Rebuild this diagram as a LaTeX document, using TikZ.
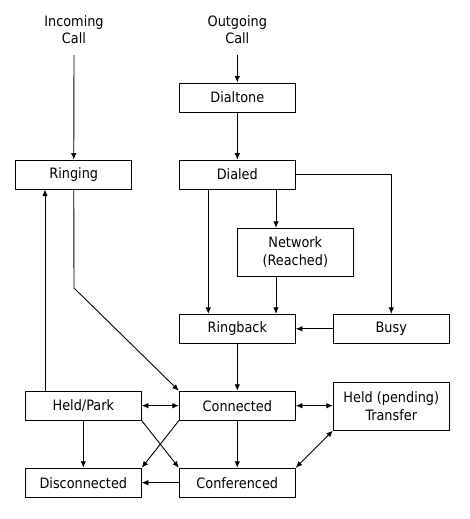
\documentclass[tikz,border=0pt]{standalone}
\usepackage{fontspec}
\setmainfont{DejaVu Sans Condensed}
\usetikzlibrary{arrows.meta}
\begin{document}
\begin{tikzpicture}[x=1pt,y=-1pt,
  box/.style={draw,line width=0.9pt,minimum width=116pt,minimum height=29pt,inner sep=0pt,align=center,font=\fontsize{14.3}{17.6}\selectfont},
  tallbox/.style={box,minimum height=48pt},
  lbl/.style={inner sep=0pt,minimum height=51pt,align=center,font=\fontsize{14.3}{17.6}\selectfont},
  arr/.style={line width=0.9pt,-{Latex[length=6.5pt,width=5.5pt]}},
  darr/.style={line width=0.9pt,{Latex[length=6.5pt,width=5.5pt]}-{Latex[length=6.5pt,width=5.5pt]}}]
\useasboundingbox (0,0) rectangle (469,519);
\node[lbl] (in) at (74,29.5) {Incoming\\Call};
\node[lbl] (out) at (237.3,29.5) {Outgoing\\Call};
\node[box] (dialtone) at (237.3,97.5) {Dialtone};
\node[box] (ringing) at (73.75,174.6) {Ringing};
\node[box] (dialed) at (237.3,174.6) {Dialed};
\node[tallbox] (network) at (295.3,252.3) {Network\\(Reached)};
\node[box] (ringback) at (237.3,328.8) {Ringback};
\node[box] (busy) at (391.3,328.8) {Busy};
\node[box] (heldpark) at (83.3,405.7) {Held/Park};
\node[box] (connected) at (237.3,405.7) {Connected};
\node[tallbox] (heldt) at (391.3,406.2) {Held (pending)\\Transfer};
\node[box] (disc) at (83.3,482.7) {Disconnected};
\node[box] (conf) at (237.3,482.7) {Conferenced};
\coordinate (nx) at (276,0);
\coordinate (rx) at (208.3,0);
\coordinate (px) at (45,0);
\coordinate (bend) at (74,288);
\draw[arr] (in.south) -- (ringing.north);
\draw[arr] (out.south) -- (dialtone.north);
\draw[arr] (dialtone) -- (dialed);
\draw[arr] (dialed.south -| nx) -- (network.north -| nx);
\draw[arr] (dialed.south -| rx) -- (ringback.north -| rx);
\draw[arr] (dialed.east) -| (busy.north);
\draw[arr] (network.south -| nx) -- (ringback.north -| nx);
\draw[arr] (busy) -- (ringback);
\draw[arr] (ringback) -- (connected);
\draw[arr] (ringing.south) -- (bend) -- (connected.north west);
\draw[arr] (heldpark.north -| px) -- (ringing.south -| px);
\draw[darr] (heldpark) -- (connected);
\draw[darr] (connected.east) -- (heldt.west |- connected.east);
\draw[arr] (heldpark) -- (disc);
\draw[arr] (heldpark.south east) -- (conf.north west);
\draw[arr] (connected.south west) -- (disc.north east);
\draw[arr] (connected) -- (conf);
\draw[arr] (conf) -- (disc);
\draw[darr] (heldt.south west) -- (conf.north east);
\end{tikzpicture}
\end{document}
